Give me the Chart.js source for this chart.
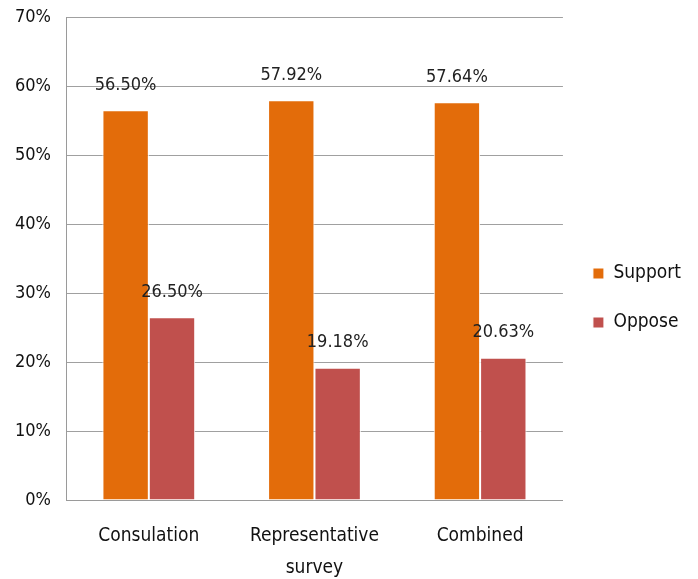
<!DOCTYPE html>
<html>
<head>
<meta charset="utf-8">
<script src="https://cdn.jsdelivr.net/npm/chart.js@4/dist/chart.umd.min.js"></script>
<style>
  html, body { margin: 0; padding: 0; background: #fff; }
  #wrap { width: 698px; height: 579px; position: relative; }
</style>
</head>
<body>
<div id="wrap"><canvas id="myChart"></canvas></div>
<script>
// chart data
const categories = [["Consulation"], ["Representative", "survey"], ["Combined"]];
const supportValues = [56.50, 57.92, 57.64];
const opposeValues = [26.50, 19.18, 20.63];
const yTicks = [0, 10, 20, 30, 40, 50, 60, 70];

const FONT = "'Liberation Sans Narrow', 'DejaVu Sans Condensed', sans-serif";

// draws the value labels above each bar
const valueLabels = {
  id: 'valueLabels',
  afterDatasetsDraw(chart) {
    const ctx = chart.ctx;
    ctx.save();
    ctx.font = '18px ' + FONT;
    ctx.fillStyle = '#222';
    ctx.textAlign = 'center';
    ctx.textBaseline = 'middle';
    chart.data.datasets.forEach((ds, i) => {
      chart.getDatasetMeta(i).data.forEach((bar, j) => {
        ctx.fillText(ds.data[j].toFixed(2) + '%', bar.x, bar.y - 25);
      });
    });
    ctx.restore();
  }
};

new Chart(document.getElementById('myChart').getContext('2d'), {
  type: 'bar',
  data: {
    labels: categories,
    datasets: [
      {
        label: 'Support',
        data: supportValues,
        backgroundColor: '#E36C0A',
        borderColor: '#ffffff',
        borderWidth: 1
      },
      {
        label: 'Oppose',
        data: opposeValues,
        backgroundColor: '#C0504D',
        borderColor: '#ffffff',
        borderWidth: 1
      }
    ]
  },
  options: {
    responsive: true,
    maintainAspectRatio: false,
    animation: false,
    layout: { padding: { top: 17, left: 0, right: 7, bottom: 0 } },
    datasets: { bar: { categoryPercentage: 0.56, barPercentage: 1.0 } },
    plugins: {
      legend: {
        position: 'right',
        labels: {
          font: { family: FONT, size: 19 },
          color: '#111',
          boxWidth: 11,
          boxHeight: 11,
          padding: 30
        }
      },
      tooltip: { enabled: false }
    },
    scales: {
      x: {
        afterFit(axis) { axis.height = 79; },
        grid: { display: false, drawTicks: false },
        border: { color: '#9a9a9a', width: 1 },
        ticks: {
          font: { family: FONT, size: 19, lineHeight: 1.68 },
          color: '#111',
          padding: 20,
          maxRotation: 0
        }
      },
      y: {
        min: 0,
        max: 70,
        afterBuildTicks(axis) { axis.ticks = yTicks.map(v => ({ value: v })); },
        afterFit(axis) {
          axis.width = 66;
          axis.paddingTop = 0;
          axis.paddingBottom = 0;
        },
        grid: { color: '#a0a0a0', drawTicks: false },
        border: { color: '#9a9a9a', width: 1 },
        ticks: {
          font: { family: FONT, size: 18 },
          color: '#111',
          padding: 15,
          callback: v => v + '%'
        }
      }
    }
  },
  plugins: [valueLabels]
});
</script>
</body>
</html>
